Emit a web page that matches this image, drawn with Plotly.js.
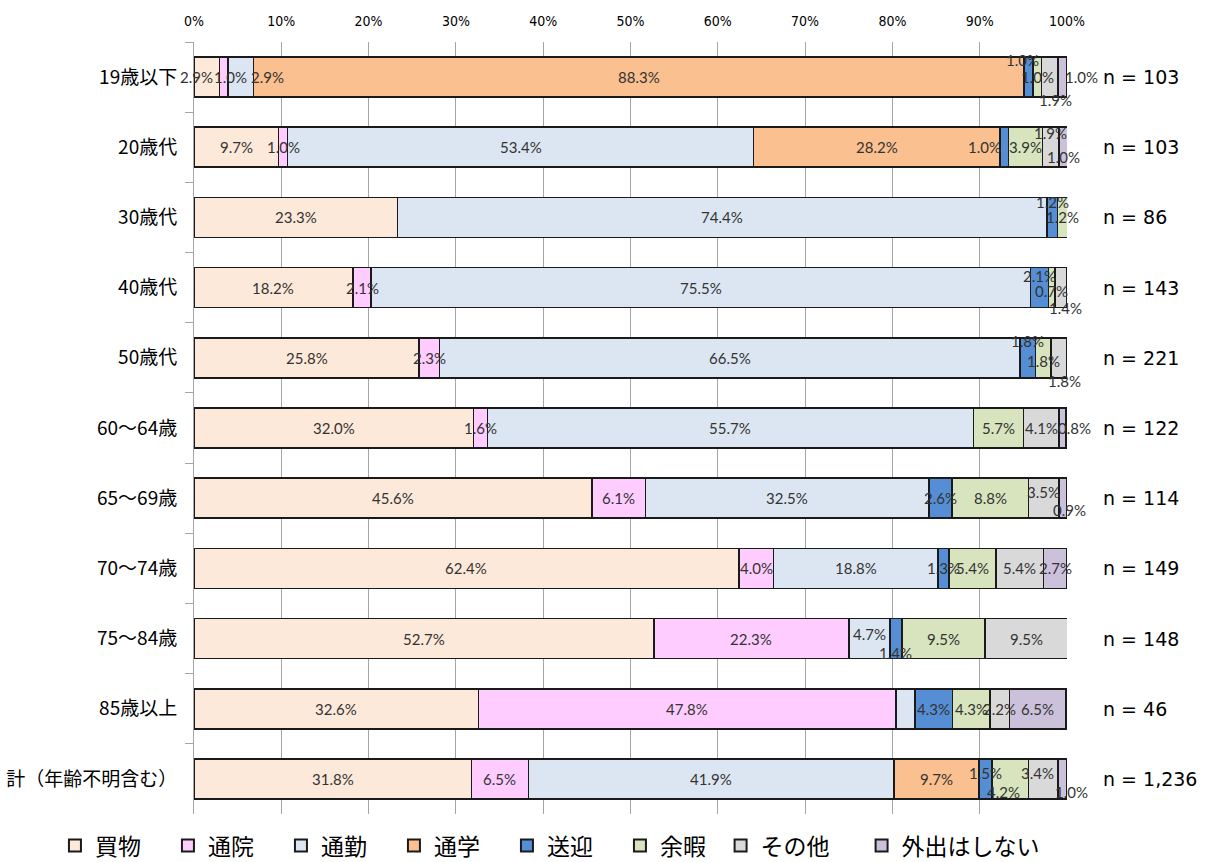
<!DOCTYPE html>
<html><head><meta charset="utf-8">
<script src="https://cdn.plot.ly/plotly-3.0.1.min.js"></script>
<style>body{margin:0;background:#fff}#chart{width:1205px;height:862px}</style>
</head><body><div id="chart"></div>
<script>
const categories = ["19歳以下","20歳代","30歳代","40歳代","50歳代","60〜64歳","65〜69歳","70〜74歳","75〜84歳","85歳以上","計（年齢不明含む）"];
const nLabels = ["n = 103","n = 103","n = 86","n = 143","n = 221","n = 122","n = 114","n = 149","n = 148","n = 46","n = 1,236"];
const seriesNames = ["買物","通院","通勤","通学","送迎","余暇","その他","外出はしない"];
const seriesColors = ["#fde9d9","#ffccff","#dce6f2","#fac090","#558ed5","#d7e4bd","#d9d9d9","#ccc1da"];
const kaimono   = [2.9, 9.7, 23.3, 18.2, 25.8, 32.0, 45.6, 62.4, 52.7, 32.6, 31.8];
const tsuin     = [1.0, 1.0, 0,    2.1,  2.3,  1.6,  6.1,  4.0,  22.3, 47.8, 6.5];
const tsukin    = [2.9, 53.4,74.4, 75.5, 66.5, 55.7, 32.5, 18.8, 4.7,  2.2,  41.9];
const tsugaku   = [88.3,28.2,0,    0,    0,    0,    0,    0,    0,    0,    9.7];
const sogei     = [1.0, 1.0, 1.2,  2.1,  1.8,  0,    2.6,  1.3,  1.4,  4.3,  1.5];
const yoka      = [1.0, 3.9, 1.2,  0.7,  1.8,  5.7,  8.8,  5.4,  9.5,  4.3,  4.2];
const sonota    = [1.9, 1.9, 0,    1.4,  1.8,  4.1,  3.5,  5.4,  9.5,  2.2,  3.4];
const gaishutsu = [1.0, 1.0, 0,    0,    0,    0.8,  0.9,  2.7,  0,    6.5,  1.0];
const xTicks = [0,10,20,30,40,50,60,70,80,90,100];

// label placement nudges (pixels, [right, down]) for crowded small segments, keyed "row,series"
const labelNudges = {
  '0,0':[-10,0], '0,1':[7,0], '0,2':[27,0], '0,4':[-6,-17], '0,6':[6,23], '0,7':[19,0],
  '1,4':[-20,0], '1,6':[0,-14], '1,7':[0,10],
  '2,4':[0,-15],
  '3,4':[0,-12], '3,5':[0,3], '3,6':[5,20],
  '4,4':[0,-17], '4,5':[0,3], '4,6':[5,23],
  '5,7':[12,0],
  '6,6':[0,-6], '6,7':[6,12],
  '8,2':[0,-5], '8,4':[0,14],
  '10,4':[0,-6], '10,5':[-7,13], '10,6':[-6,-6], '10,7':[9,13]
};
const hiddenLabels = ['9,2'];

const seriesValues = [kaimono, tsuin, tsukin, tsugaku, sogei, yoka, sonota, gaishutsu];
const legendOf = ['legend','legend','legend','legend','legend','legend','legend2','legend3'];
const traces = seriesValues.map((vals, i) => ({
  type: 'bar', orientation: 'h', name: seriesNames[i],
  y: categories, x: vals,
  legend: legendOf[i],
  marker: {color: seriesColors[i], line: {color: '#1a1a1a', width: 1.6}},
  hoverinfo: 'skip'
}));

const annotations = [];
categories.forEach((cat, r) => {
  let cum = 0;
  seriesValues.forEach((vals, s) => {
    const v = vals[r];
    const key = r + ',' + s;
    if (v > 0 && !hiddenLabels.includes(key)) {
      const nd = labelNudges[key] || [0, 0];
      annotations.push({
        xref: 'x', yref: 'y', x: cum + v / 2, y: cat, xshift: nd[0], yshift: -nd[1],
        text: v.toFixed(1) + '%', showarrow: false,
        font: {family: 'Lato, "Liberation Sans", sans-serif', size: 15, color: '#333'}
      });
    }
    cum += v;
  });
  annotations.push({
    xref: 'paper', yref: 'y', x: 1, y: cat, xanchor: 'left', xshift: 34,
    text: nLabels[r], showarrow: false,
    font: {family: '"DejaVu Sans", sans-serif', size: 19, color: '#000'}
  });
});

const legendFont = {family: '"Noto Sans CJK JP", sans-serif', size: 23, color: '#000'};
const legendBase = {
  orientation: 'h', xanchor: 'left', xref: 'container',
  y: 0.019, yanchor: 'middle', yref: 'container',
  font: legendFont, traceorder: 'normal', itemsizing: 'constant'
};
const layout = {
  width: 1205, height: 862,
  margin: {l: 194, r: 138, t: 42, b: 48},
  barmode: 'stack', bargap: 0.43,
  paper_bgcolor: '#fff', plot_bgcolor: '#fff',
  showlegend: true,
  xaxis: {
    side: 'top', range: [0, 100], tickvals: xTicks, ticktext: xTicks.map(v => v + '%'),
    showgrid: true, gridcolor: '#a6a6a6', gridwidth: 1, zeroline: false,
    ticks: '', ticklabelstandoff: 12,
    tickfont: {family: '"Liberation Sans Narrow", "DejaVu Sans Condensed", sans-serif', size: 14, color: '#000'},
    fixedrange: true
  },
  yaxis: {
    autorange: 'reversed', type: 'category',
    showline: true, linecolor: '#a6a6a6', linewidth: 1,
    ticks: 'outside', tickson: 'boundaries', ticklen: 8, tickcolor: '#a6a6a6',
    showgrid: false, ticklabelstandoff: 12,
    tickfont: {family: '"Noto Sans CJK JP", sans-serif', size: 19, color: '#000'}
  },
  legend: Object.assign({}, legendBase, {x: 0.0456, entrywidth: 68, entrywidthmode: 'pixels'}),
  legend2: Object.assign({}, legendBase, {x: 0.598}),
  legend3: Object.assign({}, legendBase, {x: 0.715}),
  annotations: annotations
};

Plotly.newPlot('chart', traces, layout, {displayModeBar: false, staticPlot: true});
</script></body></html>
